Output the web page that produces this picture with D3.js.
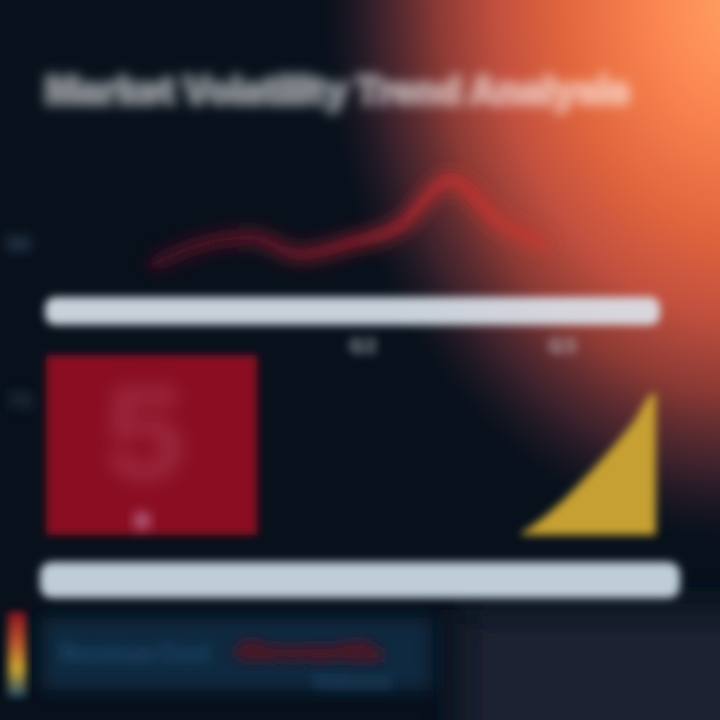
<!DOCTYPE html>
<html><head><meta charset="utf-8">
<script src="https://cdn.jsdelivr.net/npm/d3@7"></script>
<style>html,body{margin:0;padding:0;background:#07101b;overflow:hidden}</style>
</head><body><svg id="c" width="720" height="720"></svg>
<script>
// ---- data ----
const titleText = "Market Volatility Trend Analysis";
const lineMonths = ["Jan","Feb","Mar","Apr","May","Jun","Jul","Aug","Sep"];
const lineValues = [18, 29, 33, 24, 30, 39, 63, 41, 29];
const topTickValues = [30];
const lowerCategories = ["Q1","Q2","Q3"];
const lowerTickLabels = ["Q2","Q3"];
const barValue = 100;          // Q1 bar
const stemValue = 105;         // Q2 thin stem
const areaSteps = [0,1,2,3,4,5,6];
const areaValues = [0, 9, 20, 33, 47, 62, 79];
const lowerTickValues = [75];
const legendLabels = ["Revenue","Cost","Growth","Volume"];
const legendColors = ["#8a1020","#b8502a","#c9a531","#1e4a6a"];

const svg = d3.select("#c");
const defs = svg.append("defs");
function blur(id, s){
  defs.append("filter").attr("id",id).attr("x","-30%").attr("y","-60%").attr("width","160%").attr("height","220%")
    .append("feGaussianBlur").attr("stdDeviation",s);
}
blur("b3",3); blur("b4",4); blur("b6",6); blur("b9",9); blur("b20",20);

// background
svg.append("rect").attr("width",720).attr("height",720).attr("fill","#07101b");
svg.append("rect").attr("x",460).attr("y",610).attr("width",320).attr("height",160)
  .attr("fill","#1a2232").attr("filter","url(#b20)");
const rg = defs.append("radialGradient").attr("id","glow");
[[0,"#ffa262",1],[0.2,"#fb8652",1],[0.42,"#e2663d",1],[0.58,"#c2503f",1],[0.72,"#933c36",0.95],[0.86,"#502832",0.75],[1,"#2a1e2c",0]]
  .forEach(([o,c,a])=>rg.append("stop").attr("offset",o).attr("stop-color",c).attr("stop-opacity",a));
svg.append("ellipse").attr("cx",740).attr("cy",0).attr("rx",420).attr("ry",545).attr("fill","url(#glow)");

// title
svg.append("text").text(titleText)
  .attr("x",45).attr("y",104).attr("textLength",585).attr("lengthAdjust","spacingAndGlyphs")
  .attr("font-family","Inter, Roboto, sans-serif").attr("font-weight",900).attr("font-size",38)
  .attr("fill","#ffffff").attr("fill-opacity",0.42).attr("stroke","#ffffff").attr("stroke-opacity",0.3).attr("stroke-width",5)
  .attr("filter","url(#b6)");

// ---- top line chart ----
const x = d3.scalePoint().domain(lineMonths).range([150,550]);
const y = d3.scaleLinear().domain([0,100]).range([300,110]);
svg.append("line").attr("x1",55).attr("x2",55).attr("y1",y(100)).attr("y2",y(0))
  .attr("stroke","#1e3248").attr("stroke-width",9).attr("filter","url(#b4)");
svg.selectAll("text.ty").data(topTickValues).join("text").attr("class","ty")
  .attr("x",18).attr("y",d=>y(d)+8).attr("text-anchor","middle").text(d=>d)
  .attr("font-family","Inter, sans-serif").attr("font-size",20).attr("font-weight",700)
  .attr("fill","#3a5068").attr("filter","url(#b6)");
const sg = defs.append("linearGradient").attr("id","lineg").attr("gradientUnits","userSpaceOnUse")
  .attr("x1",x(lineMonths[0])).attr("x2",x(lineMonths[lineMonths.length-1])).attr("y1",0).attr("y2",0);
[[0,"#4a1422"],[0.35,"#7a1a2a"],[0.6,"#b4242e"],[0.75,"#c8302e"],[1,"#c03a32"]]
  .forEach(([o,c])=>sg.append("stop").attr("offset",o).attr("stop-color",c));
const line = d3.line().x((d,i)=>x(lineMonths[i])).y(d=>y(d)).curve(d3.curveMonotoneX);
svg.append("path").datum(lineValues).attr("d",line).attr("fill","none")
  .attr("stroke","url(#lineg)").attr("stroke-width",18).attr("stroke-opacity",0.65).attr("filter","url(#b9)");
svg.append("path").datum(lineValues).attr("d",line).attr("fill","none")
  .attr("stroke","url(#lineg)").attr("stroke-width",6).attr("stroke-opacity",0.6).attr("filter","url(#b4)");

// x axis band (top)
svg.append("rect").attr("x",45).attr("y",297).attr("width",615).attr("height",28).attr("rx",10)
  .attr("fill","#dde6ee").attr("fill-opacity",0.9).attr("filter","url(#b4)");

// ---- lower chart ----
const xb = d3.scaleBand().domain(lowerCategories).range([46,680]).padding(0);
const yl = d3.scaleLinear().domain([0,100]).range([535,355]);
svg.selectAll("text.tl").data(lowerTickValues).join("text").attr("class","tl")
  .attr("x",20).attr("y",d=>yl(d)+9).attr("text-anchor","middle").text(d=>d)
  .attr("font-family","Inter, sans-serif").attr("font-size",22).attr("font-weight",700)
  .attr("fill","#2a3a4c").attr("filter","url(#b6)");
svg.selectAll("text.cl").data(lowerTickLabels).join("text").attr("class","cl")
  .attr("x",d=>xb(d)+xb.bandwidth()/2 - (d==="Q3"?12:0)).attr("y",353).attr("text-anchor","middle").text(d=>d)
  .attr("font-family","Inter, sans-serif").attr("font-size",20).attr("font-weight",800)
  .attr("fill","#c8ccd4").attr("fill-opacity",0.6).attr("filter","url(#b4)");

// Q1 bar
svg.append("rect").attr("x",xb("Q1")).attr("y",yl(barValue)).attr("width",xb.bandwidth()).attr("height",yl(0)-yl(barValue))
  .attr("fill","#8a1020").attr("filter","url(#b4)");
svg.append("text").text("5").attr("x",xb("Q1")+55).attr("y",yl(30))
  .attr("font-family","Inter, sans-serif").attr("font-size",130).attr("font-weight",900)
  .attr("fill","#b04a62").attr("fill-opacity",0.4).attr("filter","url(#b9)");
svg.append("circle").attr("cx",xb("Q1")+96).attr("cy",yl(8)).attr("r",9)
  .attr("fill","#c890b0").attr("fill-opacity",0.6).attr("filter","url(#b6)");

// Q2 stem
const q2x = xb("Q2")+xb.bandwidth()/2;
svg.append("line").attr("x1",q2x).attr("x2",q2x).attr("y1",yl(stemValue)).attr("y2",yl(-6))
  .attr("stroke","#1e3e5c").attr("stroke-width",12).attr("filter","url(#b6)");

// Q3 area
const xa = d3.scaleLinear().domain([0,6]).range([519,655]);
const area = d3.area().x(d=>xa(d[0])).y0(yl(0)).y1(d=>yl(d[1])).curve(d3.curveMonotoneX);
const areaData = areaSteps.map((s,i)=>[s,areaValues[i]]);
areaData.push([6.04, areaValues[areaValues.length-1]]);
svg.append("path").datum(areaData).attr("d",area).attr("fill","#c6a030").attr("filter","url(#b4)");

// bottom axis band
svg.append("rect").attr("x",40).attr("y",562).attr("width",640).attr("height",36).attr("rx",12)
  .attr("fill","#cddbe6").attr("fill-opacity",0.93).attr("filter","url(#b4)");

// ---- legend ----
const lg = defs.append("linearGradient").attr("id","sw").attr("x1",0).attr("y1",0).attr("x2",0).attr("y2",1);
legendColors.forEach((c,i)=>lg.append("stop").attr("offset",i/(legendColors.length-1)).attr("stop-color",c));
svg.append("rect").attr("x",8).attr("y",612).attr("width",18).attr("height",85).attr("fill","url(#sw)").attr("filter","url(#b4)");
svg.append("rect").attr("x",42).attr("y",618).attr("width",390).attr("height",72)
  .attr("fill","#15344e").attr("fill-opacity",0.7).attr("filter","url(#b9)");
svg.append("text").text(legendLabels[0]+"  "+legendLabels[1])
  .attr("x",60).attr("y",662).attr("textLength",150).attr("lengthAdjust","spacingAndGlyphs")
  .attr("font-family","Inter, sans-serif").attr("font-size",26).attr("font-weight",800)
  .attr("fill","#1e4566").attr("filter","url(#b6)");
svg.append("text").text(legendLabels[2])
  .attr("x",236).attr("y",660).attr("textLength",145).attr("lengthAdjust","spacingAndGlyphs")
  .attr("font-family","Inter, sans-serif").attr("font-size",24).attr("font-weight",900)
  .attr("fill","#4a1628").attr("stroke","#4a1628").attr("stroke-width",4).attr("filter","url(#b6)");
svg.append("text").text(legendLabels[3])
  .attr("x",312).attr("y",688).attr("textLength",80).attr("lengthAdjust","spacingAndGlyphs")
  .attr("font-family","Inter, sans-serif").attr("font-size",18).attr("font-weight",800)
  .attr("fill","#1f4868").attr("filter","url(#b6)");
</script></body></html>
